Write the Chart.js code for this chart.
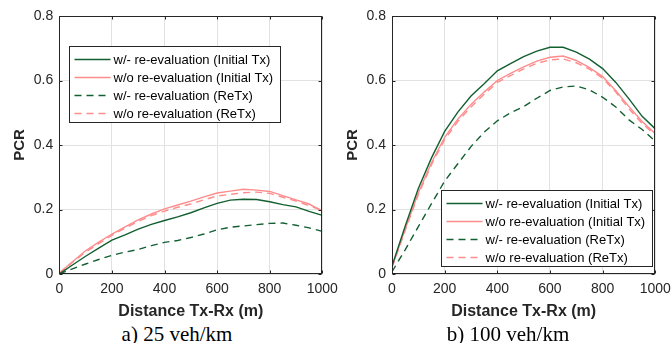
<!DOCTYPE html>
<html><head><meta charset="utf-8">
<script src="https://cdn.jsdelivr.net/npm/chart.js@4/dist/chart.umd.min.js"></script>
<style>
body{margin:0;background:#fff;width:672px;height:343px;overflow:hidden;position:relative}
canvas{position:absolute;top:0;display:block}
.cap{position:absolute;top:324px;font-family:"Liberation Serif","Times New Roman",serif;font-size:21px;line-height:20px;color:#000;white-space:nowrap;transform:translateX(-50%)}
</style>
</head><body>
<canvas id="ca" width="350" height="322" style="left:0px"></canvas>
<canvas id="cb" width="362" height="322" style="left:320px"></canvas>
<div class="cap" id="capA" style="left:177px"></div>
<div class="cap" id="capB" style="left:508px"></div>
<script>
// ---------------- data ----------------
const distance = [0,50,100,150,200,250,300,350,400,450,500,550,600,650,700,750,800,850,900,950,1000];
const xTickLabels = ['0','200','400','600','800','1000'];
const yTickLabels = ['0','0.2','0.4','0.6','0.8'];
const seriesNames = ['w/- re-evaluation (Initial Tx)','w/o re-evaluation (Initial Tx)','w/- re-evaluation (ReTx)','w/o re-evaluation (ReTx)'];
const captions = ['a) 25 veh/km','b) 100 veh/km'];
const xTitle = 'Distance Tx-Rx (m)';
const yTitle = 'PCR';

// a) 25 veh/km
const a_withInitial    = [0,0.028,0.055,0.080,0.105,0.121,0.139,0.154,0.166,0.177,0.190,0.205,0.219,0.229,0.232,0.231,0.224,0.215,0.208,0.194,0.182];
const a_withoutInitial = [0.003,0.038,0.072,0.099,0.124,0.146,0.168,0.186,0.202,0.214,0.226,0.239,0.251,0.257,0.263,0.260,0.256,0.243,0.230,0.217,0.195];
const a_withReTx       = [0,0.016,0.031,0.045,0.058,0.068,0.076,0.088,0.098,0.104,0.113,0.124,0.137,0.145,0.149,0.153,0.157,0.158,0.151,0.143,0.132];
const a_withoutReTx    = [0.002,0.036,0.068,0.094,0.120,0.142,0.163,0.181,0.195,0.207,0.217,0.230,0.242,0.247,0.252,0.254,0.250,0.238,0.226,0.212,0.197];

// b) 100 veh/km
const b_withInitial    = [0.025,0.148,0.265,0.360,0.442,0.502,0.552,0.590,0.630,0.652,0.674,0.691,0.703,0.703,0.688,0.666,0.637,0.594,0.543,0.489,0.450];
const b_withoutInitial = [0.022,0.139,0.252,0.345,0.424,0.480,0.526,0.564,0.600,0.622,0.642,0.660,0.672,0.676,0.662,0.640,0.612,0.568,0.519,0.473,0.435];
const b_withReTx       = [0.007,0.075,0.147,0.218,0.288,0.342,0.395,0.440,0.475,0.500,0.519,0.545,0.569,0.580,0.583,0.571,0.548,0.518,0.478,0.448,0.412];
const b_withoutReTx    = [0.020,0.135,0.246,0.339,0.417,0.473,0.518,0.557,0.594,0.615,0.636,0.653,0.664,0.667,0.655,0.635,0.607,0.564,0.512,0.467,0.430];

// ---------------- styles ----------------
const GREEN = '#125f30';
const PINK = '#ff8c8c';
const AX = '#262626';
const GRID = '#e2e2e2';
const SANS = '"Liberation Sans", Arial, sans-serif';
const styles = [
  {color: GREEN, dash: []},
  {color: PINK, dash: []},
  {color: GREEN, dash: [7,5]},
  {color: PINK, dash: [7,5]}
];

const boxPlugin = {
  id: 'matlabBox',
  afterDatasetsDraw(chart) {
    const {ctx, chartArea: ca, scales} = chart;
    ctx.save();
    ctx.strokeStyle = AX; ctx.lineWidth = 1; ctx.setLineDash([]);
    const L = Math.round(ca.left)+0.5, R = Math.round(ca.right)-0.5, T = Math.round(ca.top)+0.5, B = Math.round(ca.bottom)-0.5;
    ctx.strokeRect(L, T, R-L, B-T);
    ctx.beginPath();
    scales.x.ticks.forEach(t => {
      const p = Math.round(scales.x.getPixelForValue(t.value))+0.5;
      ctx.moveTo(p, B); ctx.lineTo(p, B-3);
      ctx.moveTo(p, T); ctx.lineTo(p, T+3);
    });
    scales.y.ticks.forEach(t => {
      const p = Math.round(scales.y.getPixelForValue(t.value))+0.5;
      ctx.moveTo(L, p); ctx.lineTo(L+3, p);
      ctx.moveTo(R, p); ctx.lineTo(R-3, p);
    });
    ctx.stroke();
    ctx.restore();
  },
  afterDraw(chart, args, opts) {
    const {ctx, chartArea: ca} = chart;
    const w = 211, h = 76;
    let x, y;
    if (opts.corner === 'tl') { x = ca.left + opts.dx; y = ca.top + opts.dy; }
    else { x = ca.right - opts.dx - w; y = ca.bottom - opts.dy - h; }
    x = Math.round(x)+0.5; y = Math.round(y)+0.5;
    ctx.save();
    ctx.fillStyle = '#fff'; ctx.fillRect(x, y, w, h);
    ctx.strokeStyle = AX; ctx.lineWidth = 1; ctx.strokeRect(x, y, w, h);
    ctx.font = '13px ' + SANS; ctx.textBaseline = 'middle'; ctx.fillStyle = '#000';
    chart.data.datasets.forEach((ds, i) => {
      const ry = Math.round(y + 12 + i*18) + 0.5;
      ctx.strokeStyle = ds.borderColor; ctx.lineWidth = ds.borderWidth;
      ctx.setLineDash(ds.borderDash || []);
      ctx.beginPath(); ctx.moveTo(x+5, ry); ctx.lineTo(x+41, ry); ctx.stroke();
      ctx.fillText(ds.label, x+44, ry+0.5);
    });
    ctx.restore();
  }
};

function makeChart(id, series, cfg) {
  const datasets = series.map((vals, i) => ({
    label: seriesNames[i],
    data: distance.map((d, k) => ({x: d, y: vals[k]})),
    borderColor: styles[i].color,
    borderDash: styles[i].dash,
    borderWidth: 1.4,
    pointRadius: 0,
    tension: 0,
    fill: false
  }));
  return new Chart(document.getElementById(id), {
    type: 'line',
    data: {datasets},
    plugins: [boxPlugin],
    options: {
      responsive: false, animation: false, devicePixelRatio: 1,
      layout: {padding: {top: 16, right: cfg.rightPad, left: 0, bottom: 0}},
      plugins: {legend: {display: false}, tooltip: {enabled: false},
        matlabBox: cfg.legend},
      scales: {
        x: {
          type: 'linear', min: 0, max: 1000,
          afterBuildTicks: s => { s.ticks = xTickLabels.map(v => ({value: Number(v)})); },
          ticks: {callback: (v, i) => xTickLabels[i], color: AX, font: {family: SANS, size: 14}, padding: 7, maxRotation: 0, autoSkip: false},
          grid: {color: GRID, drawTicks: false},
          border: {display: false},
          title: {display: true, text: xTitle, color: AX, font: {family: SANS, size: 16, weight: 'bold'}, padding: {top: 0, bottom: 0.7}},
          afterFit: s => { s.height = 48; }
        },
        y: {
          type: 'linear', min: 0, max: 0.8,
          afterBuildTicks: s => { s.ticks = yTickLabels.map(v => ({value: Number(v)})); },
          ticks: {callback: (v, i) => yTickLabels[i], color: AX, font: {family: SANS, size: 14}, padding: 6},
          grid: {color: GRID, drawTicks: false},
          border: {display: false},
          title: {display: true, text: yTitle, color: AX, font: {family: SANS, size: 15, weight: 'bold'}, padding: {top: cfg.yTitlePad, bottom: 0}},
          afterFit: s => { s.width = cfg.yAxisWidth; }
        }
      }
    }
  });
}

makeChart('ca', [a_withInitial, a_withoutInitial, a_withReTx, a_withoutReTx],
  {rightPad: 27.7, yAxisWidth: 59.3, yTitlePad: 11, legend: {corner: 'tl', dx: 10, dy: 30}});
makeChart('cb', [b_withInitial, b_withoutInitial, b_withReTx, b_withoutReTx],
  {rightPad: 26.7, yAxisWidth: 72, yTitlePad: 24, legend: {corner: 'br', dx: 3.3, dy: 8}});
document.getElementById('capA').textContent = captions[0];
document.getElementById('capB').textContent = captions[1];
</script>
</body></html>
